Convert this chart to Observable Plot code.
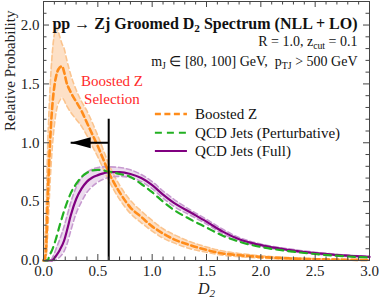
<!DOCTYPE html>
<html><head><meta charset="utf-8">
<script src="https://cdn.jsdelivr.net/npm/d3@7"></script>
<script src="https://cdn.jsdelivr.net/npm/@observablehq/plot@0.6"></script>
<style>
body{margin:0;background:#fff;overflow:hidden}
#chart svg, #chart svg text { font-family: "Liberation Serif", "Times New Roman", serif !important; }
</style>
</head><body><div id="chart"></div>
<script>
// Boosted Z (NLL+LO) with uncertainty band
const dZ =      [0, 0.02, 0.04, 0.06, 0.08, 0.10, 0.12, 0.15, 0.17, 0.19, 0.21, 0.25, 0.30, 0.35, 0.40, 0.45, 0.50, 0.55, 0.60, 0.70, 0.80, 0.90, 1.00, 1.10, 1.20, 1.35, 1.50, 1.65, 1.80, 2.00, 2.25, 2.50, 2.75, 3.00];
const zCentral =[0, 0.05, 0.55, 1.00, 1.30, 1.48, 1.58, 1.64, 1.65, 1.60, 1.52, 1.43, 1.35, 1.27, 1.17, 1.07, 0.97, 0.86, 0.75, 0.58, 0.45, 0.37, 0.29, 0.23, 0.18, 0.13, 0.09, 0.06, 0.045, 0.03, 0.018, 0.011, 0.007, 0.004];
const zUpper =  [0, 0.30, 1.00, 1.45, 1.75, 1.92, 1.98, 1.90, 1.84, 1.80, 1.72, 1.58, 1.45, 1.35, 1.27, 1.17, 1.06, 0.94, 0.82, 0.64, 0.51, 0.42, 0.34, 0.27, 0.22, 0.16, 0.115, 0.08, 0.06, 0.04, 0.025, 0.015, 0.01, 0.006];
const zLower =  [0, 0.00, 0.25, 0.65, 0.95, 1.15, 1.28, 1.36, 1.38, 1.36, 1.32, 1.26, 1.20, 1.14, 1.06, 0.97, 0.88, 0.78, 0.68, 0.52, 0.40, 0.32, 0.25, 0.19, 0.15, 0.10, 0.07, 0.045, 0.032, 0.02, 0.012, 0.007, 0.004, 0.002];

// QCD jets (perturbative)
const dQP =     [0, 0.04, 0.05, 0.08, 0.11, 0.15, 0.20, 0.25, 0.30, 0.35, 0.40, 0.45, 0.50, 0.55, 0.60, 0.70, 0.80, 0.90, 1.00, 1.10, 1.20, 1.35, 1.50, 1.65, 1.80, 2.00, 2.25, 2.50, 2.75, 3.00];
const qcdPert = [0, 0.00, 0.03, 0.09, 0.17, 0.30, 0.45, 0.57, 0.65, 0.71, 0.745, 0.765, 0.77, 0.765, 0.755, 0.735, 0.71, 0.65, 0.58, 0.50, 0.43, 0.35, 0.28, 0.21, 0.16, 0.115, 0.08, 0.055, 0.037, 0.025];

// QCD jets (full) with uncertainty band
const dQF =     [0, 0.06, 0.08, 0.10, 0.12, 0.15, 0.19, 0.22, 0.25, 0.30, 0.35, 0.40, 0.45, 0.50, 0.55, 0.60, 0.70, 0.80, 0.90, 1.00, 1.10, 1.20, 1.35, 1.50, 1.65, 1.80, 2.00, 2.25, 2.50, 2.75, 3.00];
const qcdFull = [0, 0.00, 0.00, 0.02, 0.045, 0.09, 0.17, 0.27, 0.38, 0.52, 0.61, 0.67, 0.705, 0.725, 0.74, 0.75, 0.75, 0.735, 0.70, 0.64, 0.56, 0.49, 0.41, 0.33, 0.245, 0.18, 0.13, 0.09, 0.062, 0.043, 0.03];
const qcdFullUp=[0, 0.00, 0.02, 0.06, 0.11, 0.18, 0.29, 0.39, 0.49, 0.62, 0.70, 0.75, 0.775, 0.79, 0.795, 0.795, 0.79, 0.77, 0.73, 0.67, 0.59, 0.52, 0.43, 0.35, 0.265, 0.195, 0.14, 0.10, 0.07, 0.049, 0.035];
const qcdFullLo=[0, 0.00, 0.00, 0.00, 0.01, 0.03, 0.08, 0.15, 0.25, 0.40, 0.50, 0.58, 0.63, 0.665, 0.69, 0.705, 0.715, 0.705, 0.67, 0.61, 0.53, 0.46, 0.385, 0.31, 0.225, 0.165, 0.12, 0.08, 0.055, 0.037, 0.025];

// Selection cut & arrow
const cutD2 = 0.6, cutTop = 1.2, arrowY = 1.0, arrowTip = 0.25;

// Ticks and labels
const xMajor = [0, 0.5, 1.0, 1.5, 2.0, 2.5, 3.0];
const yMajor = [0, 0.5, 1.0, 1.5, 2.0];
const xMinor = d3.range(0, 31).map(i => i / 10).filter(v => Math.round(v * 10) % 5 !== 0);
const yMinor = d3.range(0, 23).map(i => i / 10).filter(v => Math.round(v * 10) % 5 !== 0);
const seriesNames = ["Boosted Z", "QCD Jets (Perturbative)", "QCD Jets (Full)"];
const titleLines = ["pp → Zj Groomed D2 Spectrum (NLL + LO)", "R = 1.0, zcut = 0.1", "mJ ∈ [80, 100] GeV,  pTJ > 500 GeV"];
const selLabel = ["Boosted Z", "Selection"];

const Z = dZ.map((d, i) => ({d, c: zCentral[i], u: zUpper[i], l: zLower[i]}));
const QP = dQP.map((d, i) => ({d, c: qcdPert[i]}));
const QF = dQF.map((d, i) => ({d, c: qcdFull[i], u: qcdFullUp[i], l: qcdFullLo[i]}));

const W = 379, H = 302, mL = 43, mR = 10, mT = 1, mB = 42;
const innerH = H - mT - mB, innerW = W - mL - mR;
const ORANGE = "#ff8c1a", GREEN = "#22b022", PURPLE = "#800080";
const FONT = "Liberation Serif";
const curve = "monotone-x";
const leftArrow = {draw(ctx) { ctx.moveTo(-10, 0); ctx.lineTo(10, -5.5); ctx.lineTo(10, 5.5); ctx.closePath(); }};
const legendY = [1.245, 1.085, 0.93];

const plot = Plot.plot({
  width: W, height: H,
  marginLeft: mL, marginRight: mR, marginTop: mT, marginBottom: mB,
  style: {fontFamily: FONT, fontSize: "15px", color: "#222", background: "white"},
  x: {domain: [0, 3], axis: null},
  y: {domain: [0, 2.2], axis: null},
  marks: [
    // bands
    Plot.areaY(Z, {x: "d", y1: "l", y2: "u", fill: "#fde0c6", curve}),
    Plot.areaY(QF, {x: "d", y1: "l", y2: "u", fill: "#ecdcee", curve}),
    Plot.line(Z, {x: "d", y: "u", stroke: "#fbc48e", strokeWidth: 1.6, strokeDasharray: "5,3", curve}),
    Plot.line(Z, {x: "d", y: "l", stroke: "#fbc48e", strokeWidth: 1.6, strokeDasharray: "5,3", curve}),
    Plot.line(QF, {x: "d", y: "u", stroke: "#c79ad0", strokeWidth: 1.6, strokeDasharray: "5,3", curve}),
    Plot.line(QF, {x: "d", y: "l", stroke: "#c79ad0", strokeWidth: 1.6, strokeDasharray: "5,3", curve}),
    // central curves
    Plot.line(QF, {x: "d", y: "c", stroke: PURPLE, strokeWidth: 2.2, curve}),
    Plot.line(QP, {x: "d", y: "c", stroke: GREEN, strokeWidth: 2.2, strokeDasharray: "7,5", curve}),
    Plot.line(Z, {x: "d", y: "c", stroke: ORANGE, strokeWidth: 2.6, strokeDasharray: "6,3.5", curve}),
    // selection line and arrow
    Plot.ruleX([cutD2], {y1: 0, y2: cutTop, stroke: "black", strokeWidth: 2}),
    Plot.link([0], {x1: cutD2, x2: arrowTip, y1: arrowY, y2: arrowY, stroke: "black", strokeWidth: 2}),
    Plot.dot([0], {x: arrowTip, y: arrowY, dx: 10, symbol: leftArrow, fill: "black", stroke: "none"}),
    Plot.text(selLabel, {x: 0.63, y: (d, i) => 1.525 - i * 0.155, text: d => d, fill: "#ff2a2a", fontSize: 15, fontFamily: FONT}),
    // frame & ticks
    Plot.frame({stroke: "#444", strokeWidth: 1}),
    Plot.tickX(xMajor, {x: d => d, insetTop: innerH - 6, stroke: "#444"}),
    Plot.tickX(xMinor, {x: d => d, insetTop: innerH - 3.5, stroke: "#444"}),
    Plot.tickX(xMajor, {x: d => d, insetBottom: innerH - 6, stroke: "#444"}),
    Plot.tickX(xMinor, {x: d => d, insetBottom: innerH - 3.5, stroke: "#444"}),
    Plot.tickY(yMajor, {y: d => d, insetRight: innerW - 6, stroke: "#444"}),
    Plot.tickY(yMinor, {y: d => d, insetRight: innerW - 3.5, stroke: "#444"}),
    Plot.tickY(yMajor, {y: d => d, insetLeft: innerW - 6, stroke: "#444"}),
    Plot.tickY(yMinor, {y: d => d, insetLeft: innerW - 3.5, stroke: "#444"}),
    Plot.axisX({ticks: xMajor, tickSize: 0, tickPadding: 5, tickFormat: d => d.toFixed(1), label: null, fontSize: 15, fontFamily: FONT}),
    Plot.axisY({ticks: yMajor, tickSize: 0, tickPadding: 4, tickFormat: d => d.toFixed(1), label: null, fontSize: 15, fontFamily: FONT}),
    Plot.text(["Relative Probability"], {frameAnchor: "left", rotate: -90, dx: -33, text: d => d, fontSize: 15, fill: "#222", fontFamily: FONT}),
    Plot.text(["D2"], {frameAnchor: "bottom", dy: 33, text: d => d, fontSize: 16, fontStyle: "italic", fill: "#222", fontFamily: FONT}),
    // titles
    Plot.text([titleLines[0]], {frameAnchor: "top-right", dx: -12, dy: 22, text: d => d, fontWeight: "bold", fontSize: 16, lineAnchor: "middle", fill: "#111", fontFamily: FONT}),
    Plot.text([titleLines[1]], {frameAnchor: "top-right", dx: -12, dy: 40, text: d => d, fontSize: 14, lineAnchor: "middle", fill: "#111", fontFamily: FONT}),
    Plot.text([titleLines[2]], {frameAnchor: "top-right", dx: -12, dy: 60, text: d => d, fontSize: 14, lineAnchor: "middle", fill: "#111", fontFamily: FONT}),
    // legend
    Plot.link([0], {x1: 1.025, x2: 1.32, y1: legendY[0], y2: legendY[0], stroke: ORANGE, strokeWidth: 2.6, strokeDasharray: "6,3.5"}),
    Plot.link([0], {x1: 1.025, x2: 1.32, y1: legendY[1], y2: legendY[1], stroke: GREEN, strokeWidth: 2.2, strokeDasharray: "7,5"}),
    Plot.link([0], {x1: 1.025, x2: 1.32, y1: legendY[2], y2: legendY[2], stroke: PURPLE, strokeWidth: 2.2}),
    Plot.text(seriesNames, {x: 1.395, y: (d, i) => legendY[i], text: d => d, textAnchor: "start", fontSize: 15, fill: "#111", fontFamily: FONT})
  ]
});

// subscripts
const subs = {
  "D2": 'D<tspan dy="3" font-size="70%">2</tspan>',
  [titleLines[0]]: 'pp → Zj Groomed D<tspan dy="3" font-size="70%">2</tspan><tspan dy="-3"> Spectrum (NLL + LO)</tspan>',
  [titleLines[1]]: 'R = 1.0, z<tspan dy="3" font-size="70%">cut</tspan><tspan dy="-3"> = 0.1</tspan>',
  [titleLines[2]]: 'm<tspan dy="3" font-size="70%">J</tspan><tspan dy="-3"> ∈ [80, 100] GeV,  p</tspan><tspan dy="3" font-size="70%">TJ</tspan><tspan dy="-3"> &gt; 500 GeV</tspan>'
};
plot.querySelectorAll("text").forEach(t => {
  const s = t.textContent;
  if (subs[s] && t.children.length === 0) t.innerHTML = subs[s];
});
plot.setAttribute("font-family", FONT);
document.getElementById("chart").appendChild(plot);
</script>
</body></html>
